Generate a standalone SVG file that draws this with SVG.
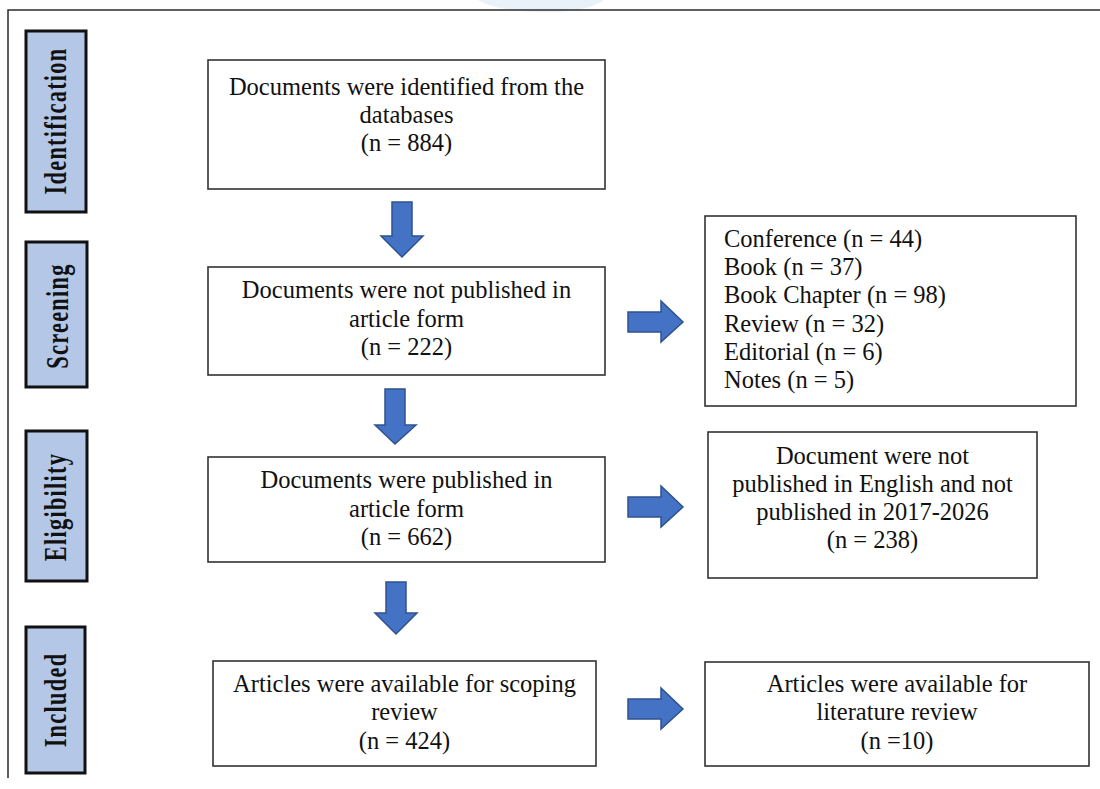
<svg xmlns="http://www.w3.org/2000/svg" width="1100" height="789" viewBox="0 0 1100 789">
<style>
.frame{stroke:#2b2b2b;stroke-width:1.5;fill:none}
.stage rect{fill:#b4c7e7;stroke:#111;stroke-width:3}
.stage text{font-family:"Liberation Serif","Times New Roman",serif;font-weight:bold;font-size:32px;letter-spacing:1.8px;fill:#111;text-anchor:middle}
.box rect{fill:#fff;stroke:#333;stroke-width:1.6}
.box text{font-family:"Liberation Serif","Times New Roman",serif;font-size:24.5px;fill:#111;text-anchor:middle}
.box text.left{text-anchor:start}
.arrow{fill:#4472c4;stroke:#2f528f;stroke-width:1.5;stroke-linejoin:miter}
</style>
<rect width="1100" height="789" fill="#fff"/>
<path d="M478,0 C490,8 520,13 555,12 C580,11 596,6 604,0 Z" fill="#e4eef8" opacity="0.8"/>
<path class="frame" d="M1100,10 H8 V778"/>

<g id="stage-identification" class="stage">
<rect x="26" y="31" width="60" height="181"/>
<text transform="translate(66,121) rotate(-90) scale(0.7,1)">Identification</text>
</g>
<g id="stage-screening" class="stage">
<rect x="26" y="242" width="61" height="145"/>
<text transform="translate(68,316) rotate(-90) scale(0.7,1)">Screening</text>
</g>
<g id="stage-eligibility" class="stage">
<rect x="26" y="431" width="61" height="150"/>
<text transform="translate(66,507) rotate(-90) scale(0.7,1)">Eligibility</text>
</g>
<g id="stage-included" class="stage">
<rect x="26" y="627" width="59" height="146"/>
<text transform="translate(66,700) rotate(-90) scale(0.7,1)">Included</text>
</g>

<g id="node-identified" class="box">
<rect x="208" y="60" width="397" height="129"/>
<text x="406.5" y="95">Documents were identified from the</text>
<text x="406.5" y="123">databases</text>
<text x="406.5" y="151">(n = 884)</text>
</g>
<g id="node-not-article" class="box">
<rect x="208" y="267" width="397" height="108"/>
<text x="406.5" y="298">Documents were not published in</text>
<text x="406.5" y="326.5">article form</text>
<text x="406.5" y="355">(n = 222)</text>
</g>
<g id="node-excluded-types" class="box">
<rect x="705" y="216" width="371" height="190"/>
<text class="left" x="724" y="247">Conference (n = 44)</text>
<text class="left" x="724" y="275.2">Book (n = 37)</text>
<text class="left" x="724" y="303.4">Book Chapter (n = 98)</text>
<text class="left" x="724" y="331.6">Review (n = 32)</text>
<text class="left" x="724" y="359.8">Editorial (n = 6)</text>
<text class="left" x="724" y="388">Notes (n = 5)</text>
</g>
<g id="node-article" class="box">
<rect x="208" y="457" width="397" height="105"/>
<text x="406.5" y="488">Documents were published in</text>
<text x="406.5" y="516.5">article form</text>
<text x="406.5" y="545">(n = 662)</text>
</g>
<g id="node-not-english" class="box">
<rect x="708" y="432" width="329" height="146"/>
<text x="872.5" y="464">Document were not</text>
<text x="872.5" y="492">published in English and not</text>
<text x="872.5" y="520">published in 2017-2026</text>
<text x="872.5" y="548">(n = 238)</text>
</g>
<g id="node-scoping" class="box">
<rect x="213" y="661" width="383" height="105"/>
<text x="404.5" y="692">Articles were available for scoping</text>
<text x="404.5" y="720">review</text>
<text x="404.5" y="749">(n = 424)</text>
</g>
<g id="node-literature" class="box">
<rect x="705" y="662" width="384" height="104"/>
<text x="897" y="692">Articles were available for</text>
<text x="897" y="720">literature review</text>
<text x="897" y="749">(n =10)</text>
</g>

<g id="connectors">
<path class="arrow" d="M392,202 H412 V236 H423 L402,257 L381,236 H392 Z"/>
<path class="arrow" d="M385,389 H405 V425 H416 L395,444 L375,425 H385 Z"/>
<path class="arrow" d="M386,582 H406 V613 H417 L396,634 L375,613 H386 Z"/>
<path class="arrow" d="M628,312 H661 V301 L683,322 L661,342 V332 H628 Z"/>
<path class="arrow" d="M628,497 H661 V486 L683,507 L661,527 V517 H628 Z"/>
<path class="arrow" d="M628,699 H661 V688 L683,709 L661,729 V719 H628 Z"/>
</g>
</svg>
